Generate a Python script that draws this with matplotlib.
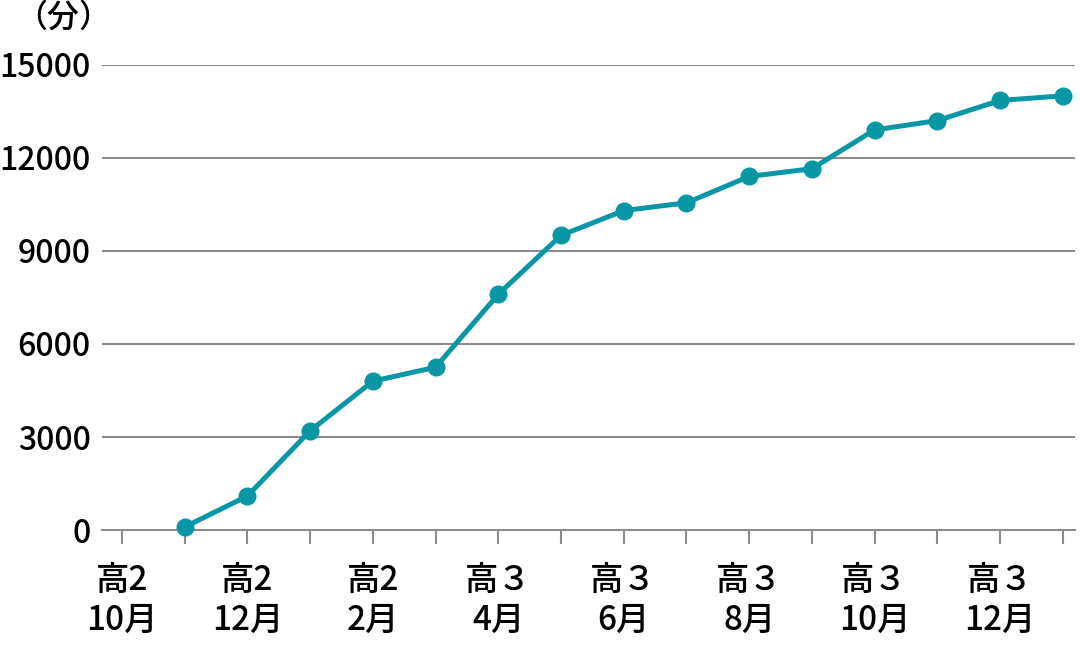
import matplotlib
matplotlib.use("Agg")
import matplotlib.pyplot as plt

plt.rcParams['font.family'] = ['Noto Sans CJK JP', 'DejaVu Sans']
plt.rcParams['font.weight'] = 'medium'

# months from 高2 10月 to 高3 1月 (16 ticks), data starts at 高2 11月
months = ["高2\n10月", "", "高2\n12月", "", "高2\n2月", "", "高３\n4月", "",
          "高３\n6月", "", "高３\n8月", "", "高３\n10月", "", "高３\n12月", ""]
month_idx = list(range(1, 16))
minutes = [100, 1100, 3200, 4800, 5250, 7600, 9500, 10300, 10550,
           11400, 11650, 12900, 13200, 13850, 14000]
yticks = [0, 3000, 6000, 9000, 12000, 15000]

teal = "#0a97a5"
grid_c = "#8c8c8c"

fig = plt.figure(figsize=(10.8, 6.48), dpi=100)
ax = fig.add_axes([0.0944, 0.182, 0.9006, 0.718])

ax.plot(month_idx, minutes, color=teal, lw=3.6, marker="o", ms=12,
        solid_joinstyle="round", zorder=3, clip_on=False)

ax.set_xlim(-0.32, 15.19)
ax.set_ylim(0, 15000)
ax.set_yticks(yticks)
ax.set_yticklabels([str(v) for v in yticks], fontsize=23)
ax.set_xticks(range(len(months)))
ax.set_xticklabels(months, fontsize=24, linespacing=1.15)

for v in yticks[1:]:
    ax.axhline(v, color=grid_c, lw=1.5, zorder=1)

for s in ["top", "right", "left"]:
    ax.spines[s].set_visible(False)
ax.spines["bottom"].set_color(grid_c)
ax.spines["bottom"].set_linewidth(1.5)
ax.tick_params(axis="y", length=0, pad=8)
ax.tick_params(axis="x", length=10, width=1.5, color=grid_c, pad=14)

fig.text(0.014, 0.972, "（分）", fontsize=23, ha="left", va="center")

fig.savefig("out.png", dpi=100)
